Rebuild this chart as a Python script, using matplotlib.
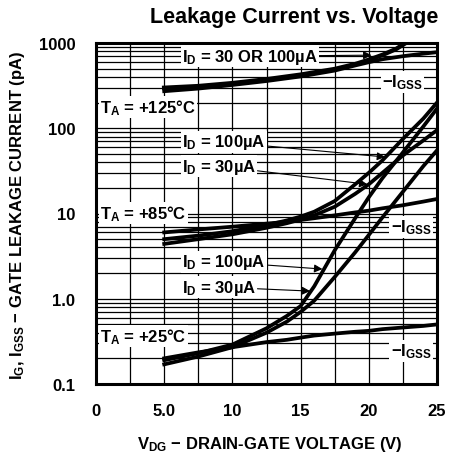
import numpy as np
import matplotlib.pyplot as plt

# gate leakage curves (pA)
v_125 = [5, 7.5, 10, 12.5, 15, 17.5, 19, 20, 21, 22.5, 24, 25]
igss_125 = [272, 292, 322, 358, 405, 475, 545, 595, 645, 700, 750, 780]
v_id_125 = [5, 7.5, 10, 12.5, 15, 17.5, 19, 20, 21, 22, 22.7]
id_125 = [298, 312, 338, 375, 425, 495, 565, 635, 725, 850, 1000]

v = [5, 7.5, 10, 12.5, 14, 15, 16, 17.5, 19, 20, 21, 22.5, 24, 25]
igss_85 = [6.0, 6.5, 7.0, 7.6, 8.0, 8.4, 8.8, 9.5, 10.3, 10.8, 11.5, 12.5, 13.8, 14.8]
id100_85 = [5.0, 5.5, 6.2, 7.3, 8.3, 9.2, 10.5, 14, 22, 30, 42, 75, 130, 200]
id30_85 = [4.4, 5.0, 5.7, 6.8, 7.7, 8.5, 9.5, 12, 17, 22, 30, 48, 72, 95]

igss_25 = [0.2, 0.235, 0.27, 0.31, 0.33, 0.35, 0.37, 0.39, 0.41, 0.42, 0.44, 0.46, 0.48, 0.5]
id100_25 = [0.19, 0.23, 0.29, 0.45, 0.63, 0.82, 1.4, 3.7, 8.8, 15.5, 26, 52, 105, 170]
id30_25 = [0.17, 0.21, 0.27, 0.4, 0.54, 0.7, 0.95, 1.8, 3.5, 5.6, 9, 18, 36, 55]

xticks = [0, 5, 10, 15, 20, 25]
xtick_labels = ['0', '5.0', '10', '15', '20', '25']
yticks = [0.1, 1, 10, 100, 1000]
ytick_labels = ['0.1', '1.0', '10', '100', '1000']

plt.rcParams['font.family'] = ['Liberation Sans', 'DejaVu Sans']
plt.rcParams['font.weight'] = 'bold'
plt.rcParams['mathtext.default'] = 'regular'

fig = plt.figure(figsize=(4.5, 4.64), dpi=100)
ax = fig.add_axes([96 / 450, 1 - 385 / 464, 341 / 450, 341 / 464])

ax.set_yscale('log')
ax.set_xlim(0, 25)
ax.set_ylim(0.1, 1000)

# grid every 2.5 V and every log minor step
ax.set_xticks(xticks)
ax.set_xticks(np.arange(2.5, 25, 5), minor=True)
ax.set_xticklabels(xtick_labels, fontsize=12, fontweight='bold')
ax.set_yticks(yticks)
ax.set_yticklabels(ytick_labels, fontsize=12, fontweight='bold')
ax.tick_params(which='both', length=0)
ax.tick_params(axis='y', pad=15)
ax.tick_params(axis='x', pad=14)
ax.grid(True, which='both', color='black', lw=0.9)
for s in ax.spines.values():
    s.set_linewidth(2.2)

lw = 2.7
ax.plot(v_125, igss_125, color='k', lw=lw)
ax.plot(v_id_125, id_125, color='k', lw=3.2)
ax.plot(v, igss_85, color='k', lw=lw)
ax.plot(v, id100_85, color='k', lw=lw)
ax.plot(v, id30_85, color='k', lw=lw)
ax.plot(v, igss_25, color='k', lw=lw)
ax.plot(v, id100_25, color='k', lw=lw)
ax.plot(v, id30_25, color='k', lw=lw)

box = dict(fc='white', ec='none', pad=1)
fs = 12
arrow = dict(arrowstyle='-|>', color='k', lw=0.8, mutation_scale=12, shrinkA=0, shrinkB=0)

ax.text(0.3, 177, r'$T_A$ = +125°C', fontsize=fs, va='center', bbox=box)
ax.text(0.3, 10.1, r'$T_A$ = +85°C', fontsize=fs, va='center', bbox=box)
ax.text(0.3, 0.366, r'$T_A$ = +25°C', fontsize=fs, va='center', bbox=box)

ax.annotate(r'$I_D$ = 30 OR 100µA', xy=(20.2, 720), xytext=(6.3, 700),
            fontsize=fs, va='center', bbox=box, arrowprops=arrow)
ax.annotate(r'$I_D$ = 100µA', xy=(21.2, 46), xytext=(6.3, 69),
            fontsize=fs, va='center', bbox=box, arrowprops=arrow)
ax.annotate(r'$I_D$ = 30µA', xy=(19.9, 22), xytext=(6.3, 36),
            fontsize=fs, va='center', bbox=box, arrowprops=arrow)
ax.annotate(r'$I_D$ = 100µA', xy=(16.6, 2.23), xytext=(6.3, 2.7),
            fontsize=fs, va='center', bbox=box, arrowprops=arrow)
ax.annotate(r'$I_D$ = 30µA', xy=(15.7, 1.23), xytext=(6.3, 1.37),
            fontsize=fs, va='center', bbox=box, arrowprops=arrow)

ax.text(21.0, 349, r'$-I_{GSS}$', fontsize=fs, va='center', bbox=box)
ax.text(21.6, 6.95, r'$-I_{GSS}$', fontsize=fs, va='center', bbox=box)
ax.text(21.6, 0.244, r'$-I_{GSS}$', fontsize=fs, va='center', bbox=box)

fig.text(294 / 450, 1 - 18 / 464, 'Leakage Current vs. Voltage', ha='center', va='center',
         fontsize=15.5, fontweight='bold')
fig.text(270 / 450, 1 - 445 / 464, r'$V_{DG}$ $-$ DRAIN-GATE VOLTAGE (V)', ha='center',
         va='center', fontsize=12)
fig.text(18 / 450, 1 - 215 / 464, r'$I_G$, $I_{GSS}$ $-$ GATE LEAKAGE CURRENT (pA)', ha='center',
         va='center', rotation=90, fontsize=12)

fig.savefig('out.png', dpi=100)
